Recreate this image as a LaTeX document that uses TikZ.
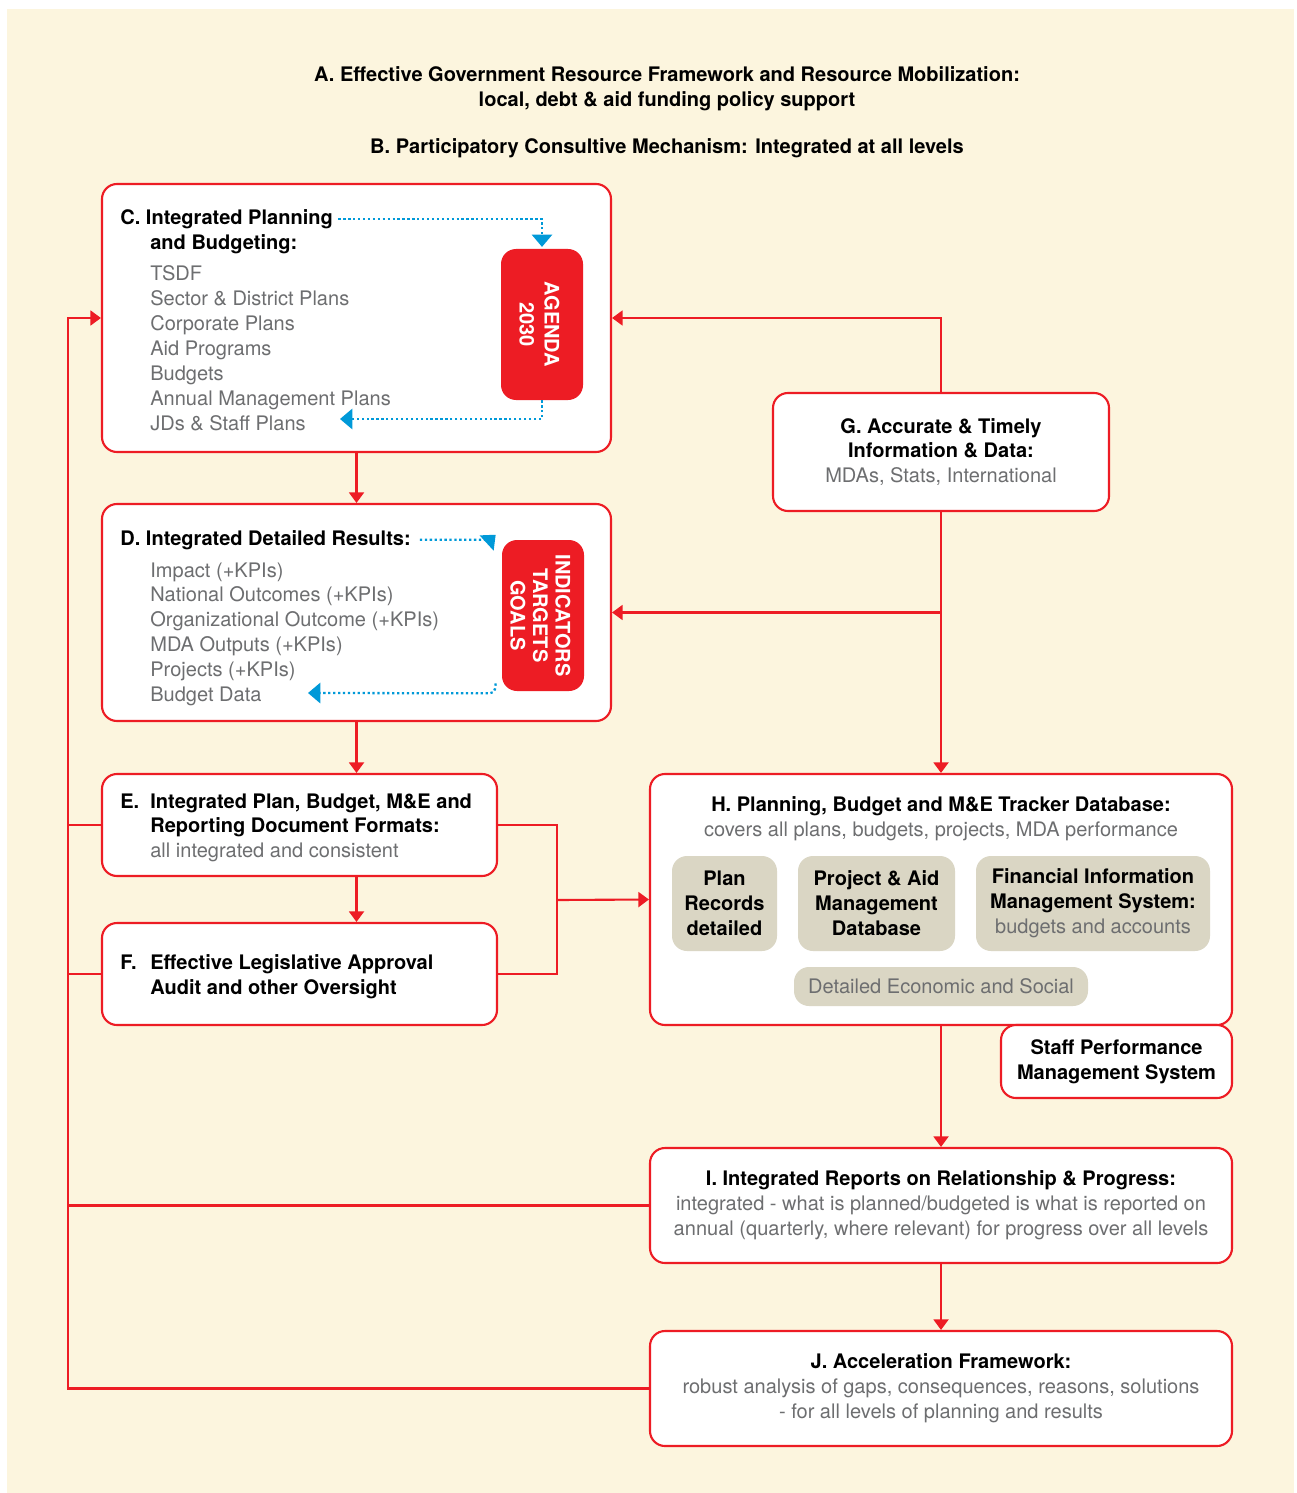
\documentclass[tikz,border=0pt]{standalone}
\usepackage{fontspec}
\setmainfont{TeX Gyre Heros}
\usetikzlibrary{positioning,calc,arrows.meta}
\definecolor{cream}{HTML}{FCF5DE}
\definecolor{ared}{HTML}{ED1C24}
\definecolor{ablue}{HTML}{0099D8}
\definecolor{agray}{HTML}{6D6E70}
\definecolor{subfill}{HTML}{DAD6C4}
\newcommand{\pxl}{0.02cm}
\newcommand{\fs}{\fontsize{11.4pt}{14.2pt}\selectfont}
\newcommand{\lt}[1]{{\mdseries\color{agray}#1}}

\tikzset{
  box/.style={draw=ared, line width=1.2pt, fill=white, rounded corners=0.3cm, inner sep=0pt},
  subbox/.style={fill=subfill, rounded corners=0.3cm, inner sep=0pt, font=\fs\bfseries, align=center},
  redbox/.style={fill=ared, rounded corners=0.3cm, inner sep=0pt},
  redtext/.style={text=white, font=\fs\bfseries, align=center, inner sep=0pt},
  head/.style={font=\fs\bfseries, inner sep=0pt},
  item/.style={font=\fs, text=agray, inner sep=0pt},
  redline/.style={draw=ared, line width=1.2pt},
  redarrow/.style={redline, -{Triangle[width=8.5pt,length=6pt]}},
  bluearrow/.style={draw=ablue, line width=1.3pt, dash pattern=on 1.3pt off 1.5pt,
    -{Triangle[width=11.5pt,length=7pt]}}
}

\begin{document}
\begin{tikzpicture}[x=0.02cm, y=-0.02cm, font=\fs]
    \useasboundingbox (0,0) rectangle (1296,1493);
    \fill[cream] (7,9) rectangle (1294,1493);

      % Headings
      \node[head, align=center] (ta) at (667,89) {A. Effective Government Resource Framework and Resource Mobilization:\\local, debt \& aid funding policy support};
      \node[head] (tb) at (667,148) {B. Participatory Consultive Mechanism: Integrated at all levels};

      % C
      \node[box, minimum width=509*\pxl, minimum height=268*\pxl] (cbox) at (356.5,318) {};
      \node[head, anchor=base west] (ctitle) at (120,224.5) {C. Integrated Planning};
      \node[head, anchor=base west] (ctitle2) at (150,249.5) {and Budgeting:};
      \foreach \t [count=\i from 0] in {TSDF, Sector \& District Plans, Corporate Plans, Aid Programs, Budgets, Annual Management Plans, JDs \& Staff Plans}
      \node[item, anchor=base west] (c\i) at (150,{281+24.9*\i}) {\t};
      \node[redbox, minimum width=82*\pxl, minimum height=151*\pxl] (agenda) at (542,324.5) {};
      \node[redtext, rotate=-90] (agendatxt) at (539.5,324.5) {AGENDA\\2030};
      \coordinate (cback) at (340,419);
      \draw[bluearrow] ([xshift=3pt]ctitle.east) -| ([yshift=1pt]agenda.north);
      \draw[bluearrow] (agenda.south) |- (cback);

      % D
      \node[box, minimum width=509*\pxl, minimum height=217*\pxl] (dbox) at (356.5,612.5) {};
      \node[head, anchor=base west] (dtitle) at (120,545) {D. Integrated Detailed Results:};
      \foreach \t [count=\i from 0] in {Impact (+KPIs), National Outcomes (+KPIs), Organizational Outcome (+KPIs), MDA Outputs (+KPIs), Projects (+KPIs), Budget Data}
      \node[item, anchor=base west] (d\i) at (150,{577+24.9*\i}) {\t};
      \node[redbox, minimum width=82*\pxl, minimum height=151*\pxl] (ind) at (543,615.5) {};
      \node[redtext, rotate=-90, font=\fontsize{11.4pt}{12.8pt}\selectfont\bfseries] (indtxt) at (540.5,615.5) {INDICATORS\\TARGETS\\GOALS};
      \coordinate (dback) at (308,693);
      \draw[bluearrow] ([xshift=5pt]dtitle.east) -- ([xshift=-10.8pt]ind.north west |- dtitle.east)
        .. controls ([xshift=-6.5pt]ind.north west |- dtitle.east) .. ([xshift=-3.4pt,yshift=2.8pt]ind.north west);
      \draw[bluearrow] ([xshift=-3.4pt,yshift=4.5pt]ind.south west)
        .. controls ([xshift=-4pt,yshift=-1.1pt]ind.south west) .. ([xshift=-10pt,yshift=-1.1pt]ind.south west) -- (dback);

      % E and F
      \node[box, minimum width=395*\pxl, minimum height=102*\pxl] (ebox) at (299.5,825) {};
      \node[head, anchor=base west] (elab) at (120,808) {E.};
      \node[head, anchor=base west] (e1) at (150,808) {Integrated Plan, Budget, M\&E and};
      \node[head, anchor=base west] (e2) at (150,832) {Reporting Document Formats:};
      \node[item, anchor=base west] (e3) at (150,857) {all integrated and consistent};

      \node[box, minimum width=395*\pxl, minimum height=102*\pxl] (fbox) at (299.5,974) {};
      \node[head, anchor=base west] (flab) at (120,969) {F.};
      \node[head, anchor=base west] (f1) at (150,969) {Effective Legislative Approval};
      \node[head, anchor=base west] (f2) at (150,994) {Audit and other Oversight};

      % G
      \node[box, minimum width=336*\pxl, minimum height=118*\pxl, align=center] (gbox) at (941,452)
        {\textbf{G. Accurate \& Timely}\\\textbf{Information \& Data:}\\\lt{MDAs, Stats, International}};

      % H
      \node[box, minimum width=582*\pxl, minimum height=251*\pxl] (hbox) at (941,899.5) {};
      \node[align=center, inner sep=0pt] (htitle) at (941,818.5)
        {\textbf{H. Planning, Budget and M\&E Tracker Database:}\\\lt{covers all plans, budgets, projects, MDA performance}};
      \node[subbox, minimum width=105*\pxl, minimum height=95*\pxl] (plan) at (724.5,903.5) {Plan\\Records\\detailed};
      \node[subbox, minimum width=157*\pxl, minimum height=95*\pxl] (pamd) at (876.5,903.5) {Project \& Aid\\Management\\Database};
      \node[subbox, minimum width=234*\pxl, minimum height=95*\pxl] (fims) at (1093,903.5) {Financial Information\\Management System:\\\lt{budgets and accounts}};
      \node[subbox, minimum width=294*\pxl, minimum height=39*\pxl] (econ) at (941,986.5) {\lt{Detailed Economic and Social}};

      % Staff
      \node[box, minimum width=231*\pxl, minimum height=73*\pxl, font=\fs\bfseries, align=center] (staff) at (1116.5,1061.5)
        {Staff Performance\\Management System};

      % I and J
      \node[box, minimum width=582*\pxl, minimum height=115*\pxl, align=center] (ibox) at (941,1205.5)
        {\textbf{I. Integrated Reports on Relationship \& Progress:}\\\lt{integrated - what is planned/budgeted is what is reported on}\\\lt{annual (quarterly, where relevant) for progress over all levels}};
      \node[box, minimum width=582*\pxl, minimum height=115*\pxl, align=center] (jbox) at (941,1388.5)
        {\textbf{J. Acceleration Framework:}\\\lt{robust analysis of gaps, consequences, reasons, solutions}\\\lt{- for all levels of planning and results}};

      % Connectors
      \draw[redarrow] (cbox.south) -- (dbox.north);
      \draw[redarrow] (dbox.south) -- (dbox.south |- ebox.north);
      \draw[redarrow] (dbox.south |- ebox.south) -- (dbox.south |- fbox.north);
      \draw[redarrow] (gbox.north) |- (cbox.east);
      \draw[redarrow] (gbox.south) -- (hbox.north);
      \draw[redarrow] (gbox.south |- dbox.east) -- (dbox.east);
      \coordinate (efjoin) at (557,900);
      \draw[redline] (ebox.east) -| (efjoin) |- (fbox.east);
      \draw[redarrow] (efjoin) -- (hbox.west);
      \draw[redarrow] (hbox.south) -- (ibox.north);
      \draw[redarrow] (ibox.south) -- (jbox.north);

      % Feedback
      \coordinate (fbtop) at (68,318);
      \draw[redarrow] (jbox.west) -| (fbtop) -- (cbox.west);
      \draw[redline] (ibox.west) -- (ibox.west -| fbtop);
      \draw[redline] (ebox.west) -- (ebox.west -| fbtop);
      \draw[redline] (fbox.west) -- (fbox.west -| fbtop);
\end{tikzpicture}
\end{document}
